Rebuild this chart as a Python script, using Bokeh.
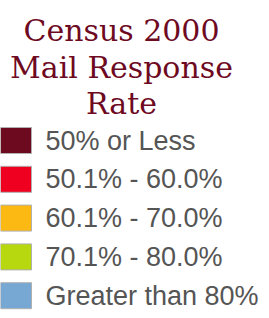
from bokeh.plotting import figure
from bokeh.models import Range1d, GlobalInlineStyleSheet
from bokeh.core.properties import value
from bokeh.embed import file_html
from bokeh.resources import INLINE

title_lines = ["Census 2000", "Mail Response", "Rate"]
categories = ["50% or Less", "50.1% - 60.0%", "60.1% - 70.0%", "70.1% - 80.0%", "Greater than 80%"]
colors = ["#6e0a1f", "#f00020", "#fdb913", "#b7d70f", "#76a8d3"]

W, H = 269, 318
p = figure(width=W, height=H, output_backend="svg", toolbar_location=None,
           x_range=Range1d(0, W), y_range=Range1d(H, 0),
           min_border=0, outline_line_color=None,
           stylesheets=[GlobalInlineStyleSheet(css="body{margin:0 !important;}")])
p.axis.visible = False
p.grid.visible = False
p.background_fill_color = None
p.border_fill_color = None

# title
t_base = [30, 66.7, 103.3]
p.text(x=[121] * len(title_lines), y=t_base, text=title_lines,
       text_align="center", text_baseline="alphabetic",
       text_font=value("DejaVu Serif"), text_font_size="30px", text_color="#6e0a1f")

# legend
y0, step = 140, 38.8
ys = [y0 + i * step for i in range(len(categories))]
p.rect(x=[15.5] * len(categories), y=ys, width=31, height=26,
       fill_color=colors, line_color="#b0b0b0", line_width=1)
p.text(x=[45] * len(categories), y=ys, text=categories,
       text_align="left", text_baseline="middle",
       text_font=value("Liberation Sans"), text_font_size="27px", text_color="#555555")

open("out.html", "w").write(file_html(p, INLINE))
